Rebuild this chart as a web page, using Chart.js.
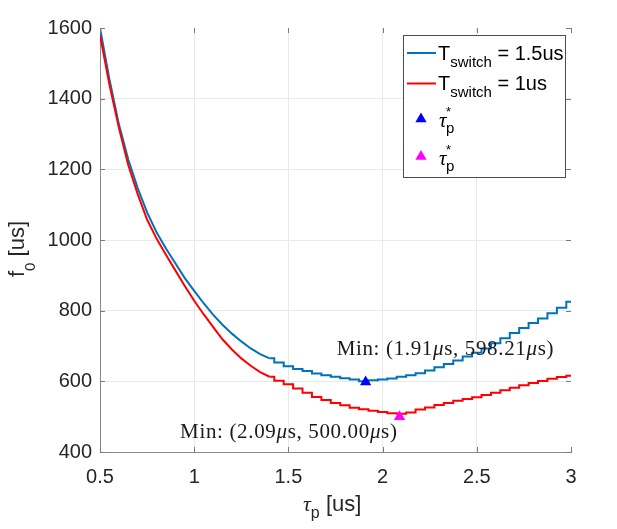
<!DOCTYPE html>
<html><head><meta charset="utf-8">
<script src="https://cdn.jsdelivr.net/npm/chart.js@4/dist/chart.umd.min.js"></script>
<style>html,body{margin:0;padding:0;background:#fff}canvas{display:block}</style>
</head><body>
<canvas id="c" width="617" height="529"></canvas>
<script>
// ---- data ----
const tau = [0.50,0.55,0.60,0.65,0.70,0.75,0.80,0.85,0.90,0.95,1.00,1.05,1.10,1.15,1.20,1.25,1.30,1.35,1.40,1.45,1.50,1.55,1.60,1.65,1.70,1.75,1.80,1.85,1.90,1.95,2.00,2.05,2.10,2.15,2.20,2.25,2.30,2.35,2.40,2.45,2.50,2.55,2.60,2.65,2.70,2.75,2.80,2.85,2.90,2.95,3.00];
const f0Switch15 = [1600,1455,1328,1228,1147,1078,1022,976,934,892,856,821,789,760,735,713,693,677,665,653,643,635,629,622,617,613,609,605,600,603,605,608,613,617,623,631,640,649,659,670,681,693,708,722,737,751,765,778,793,808,825];
const f0Switch10 = [1580,1440,1318,1212,1130,1058,1004,958,914,870,828,790,754,719,690,665,644,626,613,602,592,580,568,556,547,539,532,525,521,517,513,510,508,512,520,526,533,539,545,550,555,561,568,575,582,589,595,601,607,612,616];
const minTau = [1.91, 2.09];
const minF0 = [598.21, 500.00];
const xTicks = [0.5, 1, 1.5, 2, 2.5, 3];
const yTicks = [400, 600, 800, 1000, 1200, 1400, 1600];
const switchLabels = ['1.5us', '1us'];
const stairFrom = 1.4; // the curves are drawn as stairs from this tau on

const BLUE = '#0072BD', RED = '#FF0000', MBLUE = '#0000FF', MAG = '#FF00FF';
const SANS = "'Liberation Sans', Arial, sans-serif";
const SERIF = "'Liberation Serif', 'Times New Roman', serif";

function runs(ctx, x, y, parts) {
  for (const [t, f, dy] of parts) {
    ctx.font = f;
    ctx.fillText(t, x, y + (dy || 0));
    x += ctx.measureText(t).width;
  }
  return x;
}
function runsWidth(ctx, parts) {
  let w = 0;
  for (const [t, f] of parts) { ctx.font = f; w += ctx.measureText(t).width; }
  return w;
}
function tri(ctx, x, y, r, color) {
  ctx.beginPath();
  ctx.moveTo(x, y - r);
  ctx.lineTo(x + r * 0.866, y + r * 0.5);
  ctx.lineTo(x - r * 0.866, y + r * 0.5);
  ctx.closePath();
  ctx.fillStyle = color; ctx.fill();
}

const deco = {
  id: 'deco',
  afterDatasetsDraw(chart) {
    const { ctx, chartArea: a, scales: { x, y } } = chart;
    ctx.save();
    // inward tick marks on all four sides
    ctx.strokeStyle = '#7a7a7a'; ctx.lineWidth = 1;
    ctx.beginPath();
    xTicks.forEach(v => {
      const px = Math.round(x.getPixelForValue(v)) + 0.5;
      ctx.moveTo(px, a.bottom); ctx.lineTo(px, a.bottom - 5);
      ctx.moveTo(px, a.top); ctx.lineTo(px, a.top + 5);
    });
    yTicks.forEach(v => {
      const py = Math.round(y.getPixelForValue(v)) + 0.5;
      ctx.moveTo(a.left, py); ctx.lineTo(a.left + 5, py);
      ctx.moveTo(a.right, py); ctx.lineTo(a.right - 5, py);
    });
    ctx.stroke();

    // annotations
    ctx.fillStyle = '#1a1a1a';
    ctx.textBaseline = 'alphabetic';
    try { ctx.letterSpacing = '0.65px'; } catch (e) {}
    const rf = '21px ' + SERIF, itf = 'italic 21px ' + SERIF;
    const fmt = (t, f) => [['Min: (' + t.toFixed(2), rf], ['\u03bc', itf], ['s, ' + f.toFixed(2), rf], ['\u03bc', itf], ['s)', rf]];
    const p1 = fmt(minTau[0], minF0[0]);
    const bx = x.getPixelForValue(minTau[0]), by = y.getPixelForValue(minF0[0]);
    runs(ctx, bx - 29, by - 27, p1);
    const p2 = fmt(minTau[1], minF0[1]);
    const mx = x.getPixelForValue(minTau[1]), my = y.getPixelForValue(minF0[1]);
    const w2 = runsWidth(ctx, p2);
    runs(ctx, mx - 2 - w2, my + 21, p2);
    try { ctx.letterSpacing = '0px'; } catch (e) {}

    // axis titles
    ctx.fillStyle = '#262626';
    runs(ctx, 303, 511, [['\u03c4', 'italic 22px ' + SERIF], ['p', '16px ' + SANS, 7], [' [us]', '22px ' + SANS]]);
    ctx.save();
    ctx.translate(24, 277);
    ctx.rotate(-Math.PI / 2);
    runs(ctx, 0, 0, [['f', '22px ' + SANS], ['0', '15px ' + SANS, 11], [' [us]', '22px ' + SANS]]);
    ctx.restore();

    // legend
    const L = a.right - 168, T = a.top + 7;
    ctx.fillStyle = '#ffffff';
    ctx.fillRect(L, T, 162, 142);
    ctx.strokeStyle = '#4d4d4d'; ctx.lineWidth = 1;
    ctx.strokeRect(L + 0.5, T + 0.5, 162, 142);
    [[BLUE, 0], [RED, 1]].forEach(([c, i]) => {
      const ly = T + 18 + i * 30.5;
      ctx.strokeStyle = c; ctx.lineWidth = 2;
      ctx.beginPath(); ctx.moveTo(L + 4, ly); ctx.lineTo(L + 33, ly); ctx.stroke();
      ctx.fillStyle = '#000';
      runs(ctx, L + 35, ly + 6.5, [['T', '20px ' + SANS], ['switch', '15px ' + SANS, 7], [' = ' + switchLabels[i], '20px ' + SANS]]);
    });
    [[MBLUE, 0], [MAG, 1]].forEach(([c, i]) => {
      const cy = T + 85 + i * 37.5;
      tri(ctx, L + 18, cy - 1, 6.5, c);
      ctx.fillStyle = '#000';
      ctx.font = 'italic 21px ' + SERIF;
      ctx.fillText('\u03c4', L + 36, cy + 7);
      ctx.font = '13px ' + SANS;
      ctx.fillText('*', L + 43, cy - 4);
      ctx.font = '15px ' + SANS;
      ctx.fillText('p', L + 43, cy + 13);
    });
    ctx.restore();
  }
};

const pts = (arr, part) => tau.map((t, i) => ({ x: t, y: arr[i] }))
  .filter(p => part === 'steep' ? p.x <= stairFrom : p.x >= stairFrom);

const lineDs = (label, arr, color, order, part) => ({
  label, data: pts(arr, part), borderColor: color, borderWidth: 2, pointRadius: 0,
  tension: 0, fill: false, order, stepped: part === 'steep' ? false : 'middle'
});

new Chart(document.getElementById('c'), {
  type: 'line',
  data: {
    datasets: [
      { label: '\u03c4p* (1.5us)', type: 'scatter', data: [{ x: minTau[0], y: minF0[0] }], pointStyle: 'triangle', pointRadius: 6.5, backgroundColor: MBLUE, borderColor: MBLUE, borderWidth: 0, order: 0 },
      { label: '\u03c4p* (1us)', type: 'scatter', data: [{ x: minTau[1], y: minF0[1] }], pointStyle: 'triangle', pointRadius: 6.5, backgroundColor: MAG, borderColor: MAG, borderWidth: 0, order: 1 },
      lineDs('Tswitch = 1us', f0Switch10, RED, 2, 'steep'),
      lineDs('Tswitch = 1us', f0Switch10, RED, 3, 'flat'),
      lineDs('Tswitch = 1.5us', f0Switch15, BLUE, 4, 'steep'),
      lineDs('Tswitch = 1.5us', f0Switch15, BLUE, 5, 'flat')
    ]
  },
  options: {
    responsive: false,
    animation: false,
    devicePixelRatio: 1,
    layout: { padding: { top: 28, right: 46, left: 0, bottom: 0 } },
    plugins: { legend: { display: false }, tooltip: { enabled: false } },
    scales: {
      x: {
        type: 'linear', min: 0.5, max: 3,
        afterBuildTicks: s => { s.ticks = xTicks.map(v => ({ value: v })); },
        afterFit: s => { s.height = 77; },
        grid: { color: c => (c.tick && c.tick.value === 3) ? 'rgba(0,0,0,0)' : '#e9e9e9', drawTicks: false },
        border: { display: true, color: '#8a8a8a', width: 1 },
        ticks: { padding: 13, color: '#262626', font: { family: SANS, size: 20 }, maxRotation: 0, callback: v => String(v) }
      },
      y: {
        type: 'linear', min: 400, max: 1600,
        afterBuildTicks: s => { s.ticks = yTicks.map(v => ({ value: v })); },
        afterFit: s => { s.width = 100; },
        grid: { color: c => (c.tick && c.tick.value === 1600) ? 'rgba(0,0,0,0)' : '#e9e9e9', drawTicks: false },
        border: { display: true, color: '#8a8a8a', width: 1 },
        ticks: { padding: 8, color: '#262626', font: { family: SANS, size: 20 }, callback: v => String(v) }
      }
    }
  },
  plugins: [deco]
});
</script>
</body></html>
